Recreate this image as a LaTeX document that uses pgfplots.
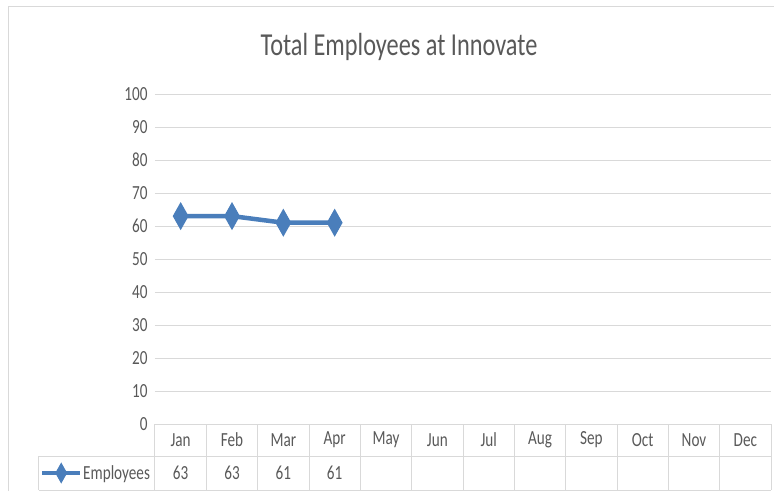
\documentclass[border=0pt]{standalone}
\usepackage{fontspec}
\setmainfont{Carlito}[FakeStretch=0.76]
\usepackage{pgfplots}
\usepackage{pgfplotstable}
\pgfplotsset{compat=1.18}
\definecolor{txt}{HTML}{595959}
\definecolor{grd}{HTML}{D9D9D9}
\definecolor{ln}{HTML}{4A7EBB}
\pgfplotstableread{
x emp
0.5 63
1.5 63
2.5 61
3.5 61
}\emp
\begin{document}
\begin{tikzpicture}
\path[use as bounding box] (0pt,0pt) rectangle (774pt,491pt);
\draw[grd, line width=1pt] (8pt,0pt) -- (8pt,484pt) -- (774pt,484pt);
\node[txt, font=\fontsize{32}{38}\selectfont] at (399pt,444pt) {Total Employees at Innovate};
\begin{axis}[
  at={(155pt,67pt)}, anchor=south west, scale only axis,
  width=616pt, height=330pt,
  xmin=0, xmax=12, ymin=0, ymax=100, clip=false,
  axis line style={draw=none}, tick style={draw=none},
  ytick={0,10,...,100}, ymajorgrids,
  grid style={grd, line width=1pt},
  xtick={0.5,1.5,...,11.5},
  xticklabels={Jan,Feb,Mar,Apr,May,Jun,Jul,Aug,Sep,Oct,Nov,Dec},
  ticklabel style={txt, font=\fontsize{20}{24}\selectfont},
  /pgf/number format/assume math mode=true,
  yticklabel style={xshift=-4pt},
  xticklabel style={anchor=center, yshift=-16pt},
  legend style={at={(axis cs:-2.24,-14.85)}, anchor=west, draw=none, fill=none,
    inner sep=0pt, font=\fontsize{20}{24}\selectfont, text=txt, nodes={inner sep=1pt}},
  legend image code/.code={\draw[#1, mark repeat=2, mark phase=2, line width=4pt, mark size=6.5pt, mark options={solid, xscale=0.75}] plot coordinates {(0pt,0pt) (19pt,0pt) (38pt,0pt)};},
]
\pgfplotsinvokeforeach{0,...,12}{\draw[grd, line width=1pt] (axis cs:#1,0) -- (axis cs:#1,-20);}
\draw[grd, line width=1pt] (axis cs:-2.26,-9.7) -- (axis cs:12,-9.7);
\draw[grd, line width=1pt] (axis cs:-2.26,-20) -- (axis cs:12,-20);
\draw[grd, line width=1pt] (axis cs:-2.26,-9.7) -- (axis cs:-2.26,-20);
\addplot[ln, line width=4.5pt, mark=diamond*, mark size=9.5pt, mark options={solid, xscale=0.75}] table[x=x, y=emp]{\emp};
\addlegendentry{Employees}
\addplot[draw=none, mark=none, nodes near coords, point meta=\thisrow{emp},
  nodes near coords style={txt, font=\fontsize{20}{24}\selectfont, anchor=center}, forget plot]
  table[x=x, y expr=-14.85]{\emp};
\end{axis}
\end{tikzpicture}
\end{document}
